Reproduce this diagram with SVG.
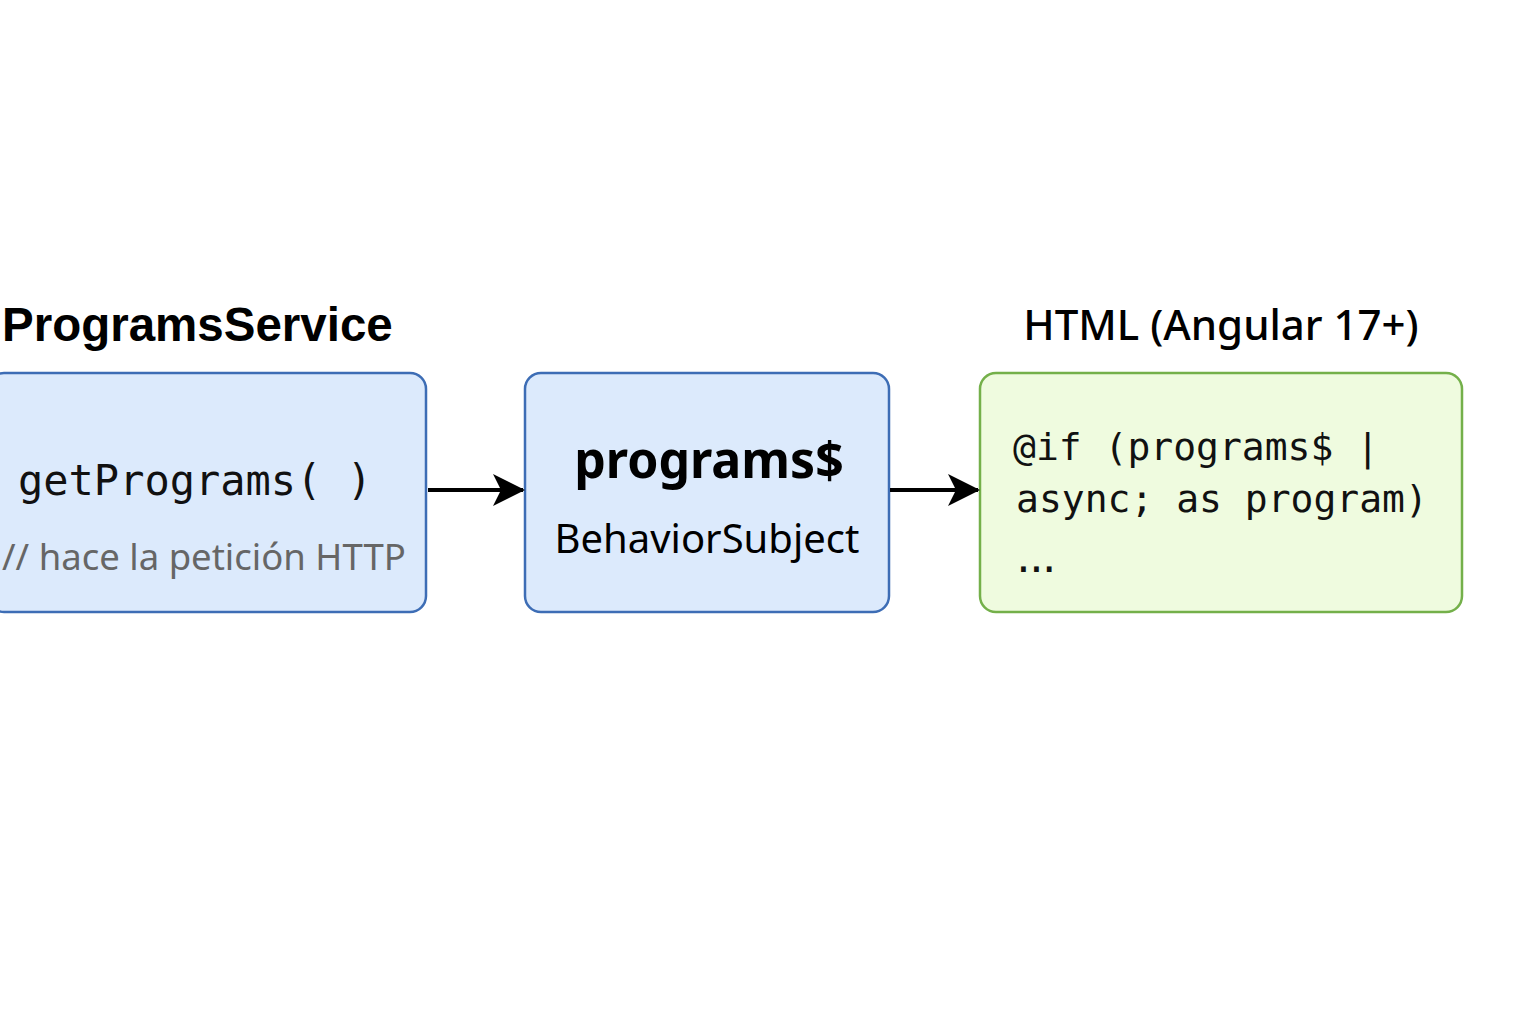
<svg xmlns="http://www.w3.org/2000/svg" width="1536" height="1024" viewBox="0 0 1536 1024">
<style>
.blue{fill:#dceafc;stroke:#3d6db5;stroke-width:2.5}
.green{fill:#effbdf;stroke:#74b04a;stroke-width:2.5}
.title{font-family:"Liberation Sans","Noto Sans",sans-serif;fill:#000}
.mono{font-family:"DejaVu Sans Mono","Liberation Mono",monospace;fill:#111}
.sans{font-family:"Noto Sans","Liberation Sans",sans-serif}
.conn{stroke:#000;stroke-width:4;fill:none}
</style>
<defs>
<marker id="ah" markerWidth="32" markerHeight="32" refX="30" refY="16" orient="auto" markerUnits="userSpaceOnUse" viewBox="0 0 32 32">
<path d="M0,0 L32,16 L0,32 L8,16 Z" fill="#000"/>
</marker>
</defs>
<rect width="1536" height="1024" fill="#fff"/>
<g id="service">
<text class="title" x="2" y="341" font-size="47.5" font-weight="bold">ProgramsService</text>
<rect class="blue" x="-12" y="373" width="438" height="239" rx="16"/>
<text class="mono" x="18" y="495" font-size="42">getPrograms( )</text>
<text class="sans" x="2" y="570" font-size="36.5" fill="#666">// hace la petición HTTP</text>
</g>
<g id="subject">
<rect class="blue" x="525" y="373" width="364" height="239" rx="16"/>
<text class="sans" x="709" y="478" font-size="50" font-weight="bold" text-anchor="middle">programs$</text>
<text class="sans" x="707" y="553" font-size="40" text-anchor="middle">BehaviorSubject</text>
</g>
<g id="html">
<text class="sans" x="1221" y="340" font-size="42" font-weight="500" text-anchor="middle">HTML (Angular 17+)</text>
<rect class="green" x="980" y="373" width="482" height="239" rx="16"/>
<text class="mono" x="1013" y="460" font-size="38">@if (programs$ |</text>
<text class="mono" x="1016" y="512" font-size="38">async; as program)</text>
<text class="mono" x="1012" y="572" font-size="38" letter-spacing="-10">...</text>
</g>
<g id="connectors">
<line class="conn" x1="428" y1="490" x2="523" y2="490" marker-end="url(#ah)"/>
<line class="conn" x1="890" y1="490" x2="978" y2="490" marker-end="url(#ah)"/>
</g>
</svg>
